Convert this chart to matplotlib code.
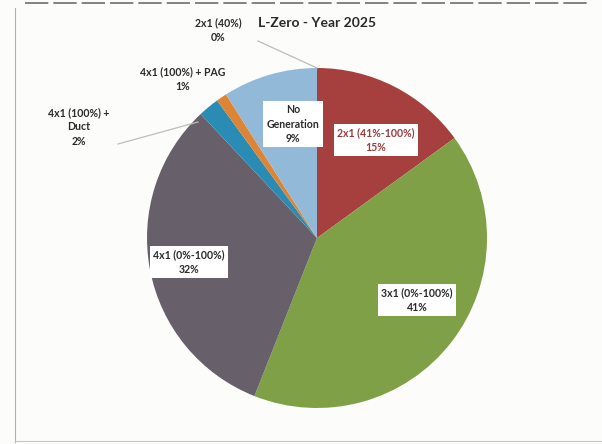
import matplotlib.pyplot as plt
from matplotlib.lines import Line2D

title = "L-Zero - Year 2025"
labels = ["2x1 (41%-100%)", "3x1 (0%-100%)", "4x1 (0%-100%)",
          "4x1 (100%) +\nDuct", "4x1 (100%) + PAG", "No\nGeneration", "2x1 (40%)"]
shares = [15, 41, 32, 2, 1, 9, 0]
colors = ["#A5403F", "#7FA047", "#67606A", "#2A8CB5", "#DD8534", "#93B9D9", "#D0D0D0"]

plt.rcParams['font.family'] = ['Lato', 'DejaVu Sans']

fig = plt.figure(figsize=(6.02, 4.44), dpi=100, facecolor="#FCFCFA")
W, H = 602, 444
cx, cy, r = 317, 238, 170

ax = fig.add_axes([(cx - r) / W, (H - cy - r) / H, 2 * r / W, 2 * r / H])

ax.pie(shares, colors=colors, startangle=90, counterclock=False, radius=1,
       wedgeprops=dict(linewidth=0))
ax.set_xlim(-1, 1)
ax.set_ylim(-1, 1)
ax.axis("off")

def to_data(px, py):
    return (px - cx) / r, (cy - py) / r

# labels: (pixel x, pixel y, boxed, text colour)
spots = [(376, 140, True, "#9A3B3A"),
         (417, 300, True, "#2A2A2A"),
         (189, 262, True, "#2A2A2A"),
         (79, 127, False, "#2A2A2A"),
         (183, 79, False, "#2A2A2A"),
         (293, 124, True, "#2A2A2A"),
         (218, 30, False, "#2A2A2A")]

for lab, val, (px, py, boxed, tc) in zip(labels, shares, spots):
    x, y = to_data(px, py)
    box = dict(boxstyle="square,pad=0.35", fc="white", ec="none") if boxed else None
    ax.text(x, y, f"{lab}\n{val}%", ha="center", va="center", fontsize=7.6,
            fontweight="bold", color=tc, linespacing=1.35, bbox=box, clip_on=False)

# leader lines for the thin slices
for (x0, y0), (x1, y1) in [((118, 144), (198, 122)), ((258, 41), (317, 68))]:
    a = to_data(x0, y0)
    b = to_data(x1, y1)
    ax.plot([a[0], b[0]], [a[1], b[1]], color="#BDBDBD", lw=0.9, clip_on=False)

fig.text(cx / W, 1 - 23 / H, title, ha="center", va="center",
         fontsize=10, fontweight="bold", color="#2A2A2A")

# chart frame
fig.add_artist(Line2D([15 / W, 15 / W], [1 - 8 / H, 1 - 442 / H], color="#B0B0B0", lw=0.8))
fig.add_artist(Line2D([15 / W, 1], [1 - 441 / H, 1 - 441 / H], color="#C8C8C8", lw=0.8))
fig.add_artist(Line2D([25 / W, 590 / W], [1 - 3 / H, 1 - 3 / H], color="#6E6E6E", lw=1.2,
                      linestyle=(0, (14, 3))))

fig.savefig("out.png", dpi=100, facecolor=fig.get_facecolor())
